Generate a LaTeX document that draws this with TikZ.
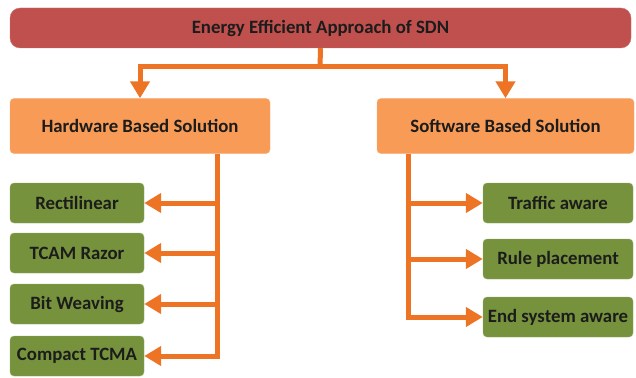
\documentclass[tikz,border=0pt]{standalone}
\usepackage{fontspec}
\setmainfont{Carlito}
\usetikzlibrary{arrows.meta}

\definecolor{topred}{HTML}{C0504D}
\definecolor{solorange}{HTML}{F79B57}
\definecolor{leafgreen}{HTML}{76923C}
\definecolor{busorange}{HTML}{ED7424}
\definecolor{boxtext}{HTML}{1C1C1C}

\tikzset{
  box/.style={rectangle, rounded corners=4pt, inner sep=0pt, text=boxtext,
    font=\bfseries\fontsize{18.8}{22}\selectfont},
  topbox/.style={box, fill=topred, draw=topred!80!white, rounded corners=10pt,
    minimum width=621pt, minimum height=40pt},
  solbox/.style={box, fill=solorange, draw=solorange!80!white,
    minimum height=55pt},
  leafbox/.style={box, fill=leafgreen, draw=leafgreen!75!white,
    minimum height=40pt},
  bus/.style={draw=busorange, line width=5pt},
  busarrow/.style={bus, -{Triangle[width=19pt,length=17pt]}}
}

\begin{document}
\begin{tikzpicture}[x=1pt, y=-1pt]
    \useasboundingbox (0,0) rectangle (636,377);
    \def \hwbus {217}  % x of the hardware bus
    \def \swbus {408}  % x of the software bus

    \node[topbox] (sdn) at (320.5,28) {Energy Efficient Approach of SDN};
    \node[solbox, minimum width=260pt] (hw) at (140,126) {Hardware Based Solution};
    \node[solbox, minimum width=257pt] (sw) at (505.5,126) {Software Based Solution};

    % split below the top box
    \coordinate (split) at (320,67);
    \draw[bus] (sdn.south) -- (split);
    \draw[busarrow] (split) -| (hw.north);
    \draw[busarrow] (split) -| (sw.north);

    % hardware leaves
    \coordinate (hwtop) at (\hwbus,154);
    \foreach \name/\txt/\y in {rect/Rectilinear/203, razor/TCAM Razor/253,
        weave/Bit Weaving/304, tcma/Compact TCMA/356}
    {
      \node[leafbox, minimum width=134pt] (\name) at (77,\y) {\txt};
      \draw[busarrow] (hwtop) |- (\name.east);
    }

    % software leaves
    \coordinate (swtop) at (\swbus,154);
    \foreach \name/\txt/\y in {traffic/Traffic aware/203, rule/Rule placement/259,
        endsys/End system aware/317}
    {
      \node[leafbox, minimum width=150pt] (\name) at (558,\y) {\txt};
      \draw[busarrow] (swtop) |- (\name.west);
    }
\end{tikzpicture}
\end{document}
